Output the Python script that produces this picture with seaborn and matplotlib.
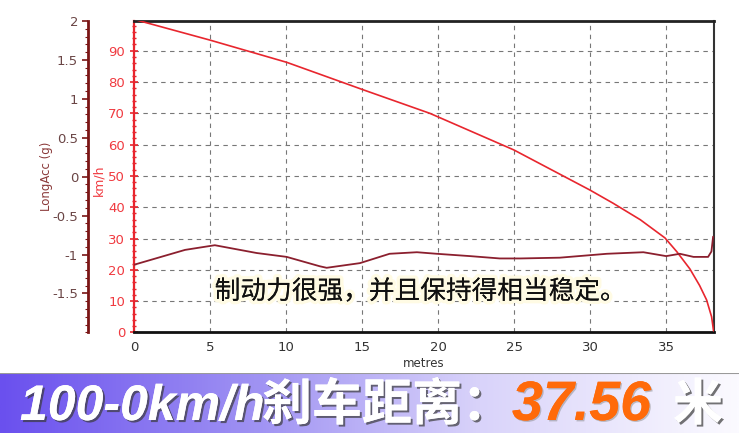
import numpy as np
import pandas as pd
import matplotlib
matplotlib.use("Agg")
import matplotlib.pyplot as plt
import matplotlib.patheffects as pe
from matplotlib.colors import LinearSegmentedColormap
from matplotlib.ticker import MultipleLocator, FixedLocator
import seaborn as sns

# ---------------- data ----------------
dist_speed = [0, 4.98, 10.03, 14.96, 19.45, 24.98, 29.98, 31.5, 33.3, 34.92, 35.7,
              36.56, 37.2, 37.66, 37.99, 38.12]
speed_kmh = [100, 93.4, 86.3, 77.7, 70.0, 58.3, 45.5, 41.3, 36.0, 30.2, 25.8,
             20.3, 15.0, 10.4, 5.0, 0.5]

dist_acc = [0, 3.34, 5.3, 8.05, 10.03, 12.2, 12.66, 14.85, 16.8, 18.6, 19.9, 22.1,
            24.05, 25.4, 28.0, 31.1, 33.5, 35.0, 35.9, 36.8, 37.76, 37.98, 38.09]
long_acc_g = [-1.13, -0.94, -0.88, -0.98, -1.03, -1.15, -1.17, -1.11, -0.99, -0.97,
              -0.99, -1.02, -1.05, -1.05, -1.04, -0.99, -0.97, -1.02, -0.99, -1.03,
              -1.03, -0.96, -0.77]

x_ticks = [0, 5, 10, 15, 20, 25, 30, 35]
speed_ticks = [0, 10, 20, 30, 40, 50, 60, 70, 80, 90]
acc_ticks = [-1.5, -1, -0.5, 0, 0.5, 1, 1.5, 2]
acc_tick_labels = ["-1.5", "-1", "-0.5", "0", "0.5", "1", "1.5", "2"]

caption = "制动力很强，并且保持得相当稳定。"
banner_parts = ["100-0km/h", "刹车距离：", "37.56", "米"]

# ---------------- style ----------------
sns.set_style("white")
plt.rcParams['font.family'] = ['DejaVu Sans', 'Noto Sans CJK SC']

SPEED_C = "#E8262E"
ACC_C = "#8B1F2E"

fig = plt.figure(figsize=(7.39, 4.33), dpi=100)
ax = fig.add_axes([0.1817, 0.2323, 0.7845, 0.7192])

df_speed = pd.DataFrame({"metres": dist_speed, "kmh": speed_kmh})
df_acc = pd.DataFrame({"metres": dist_acc, "g": long_acc_g})

sns.lineplot(data=df_speed, x="metres", y="kmh", ax=ax, color=SPEED_C,
             linewidth=1.2, estimator=None, sort=False, zorder=3)
ax.set_xlim(0, 38.15)
ax.set_ylim(0, 99.5)

ax.set_xticks(x_ticks)
ax.xaxis.set_minor_locator(MultipleLocator(1))
ax.set_yticks(speed_ticks)
ax.yaxis.set_minor_locator(MultipleLocator(2))
ax.grid(True, which="major", color="#777777", linestyle=(0, (4, 4)), linewidth=0.8)

ax.tick_params(axis="x", which="both", direction="in", colors="#222222",
               labelsize=9.5, labelcolor="#333333", pad=6)
ax.tick_params(axis="x", which="major", length=4, width=1)
ax.tick_params(axis="x", which="minor", length=3, width=0.8)
ax.tick_params(axis="y", which="both", direction="inout", colors=SPEED_C,
               labelsize=9.5, labelcolor="#F03A40")
ax.tick_params(axis="y", which="major", length=6, width=1.2)
ax.tick_params(axis="y", which="minor", length=3, width=1)

ax.set_xlabel("metres", fontsize=8.5, color="#333333", labelpad=2)
ax.set_ylabel("km/h", fontsize=9, color="#F03A40")
ax.yaxis.set_label_coords(-0.049, 0.49)

ax.spines["left"].set_color(SPEED_C)
ax.spines["left"].set_linewidth(1.6)
ax.spines["top"].set_color("#222222")
ax.spines["top"].set_linewidth(2)
ax.spines["bottom"].set_color("#111111")
ax.spines["bottom"].set_linewidth(2)
ax.spines["right"].set_color("#333333")
ax.spines["right"].set_linewidth(1.5)

# acceleration axis on the left, offset
ax2 = ax.twinx()
sns.lineplot(data=df_acc, x="metres", y="g", ax=ax2, color=ACC_C,
             linewidth=1.3, estimator=None, sort=False, zorder=3)
ax2.set_ylim(-2, 2)
ax2.set_xlim(0, 38.15)
ax2.yaxis.set_ticks_position("left")
ax2.yaxis.set_label_position("left")
ax2.spines["right"].set_visible(False)
ax2.spines["top"].set_visible(False)
ax2.spines["bottom"].set_visible(False)
ax2.spines["left"].set_visible(True)
ax2.spines["left"].set_position(("outward", 33))
ax2.spines["left"].set_color("#7A1515")
ax2.spines["left"].set_linewidth(2)
ax2.yaxis.set_major_locator(FixedLocator(acc_ticks))
ax2.set_yticklabels(acc_tick_labels)
ax2.yaxis.set_minor_locator(MultipleLocator(0.1))
ax2.tick_params(axis="y", which="both", direction="out", colors="#7A1515",
                labelsize=9.5, labelcolor="#6A4545")
ax2.tick_params(axis="y", which="major", length=4, width=1.2)
ax2.tick_params(axis="y", which="minor", length=2, width=0.8)
ax2.set_ylabel("LongAcc (g)", fontsize=8.5, color="#8B3A3A")
ax2.yaxis.set_label_coords(-0.14, 0.5)
ax2.grid(False)

# caption
ax.text(0.494, 0.13, caption, transform=ax.transAxes, ha="center", va="center",
        fontsize=18.5, color="#111111", family=["Noto Sans CJK SC", "DejaVu Sans"],
        zorder=5,
        path_effects=[pe.withStroke(linewidth=5, foreground="#FFFBE4"), pe.Normal()])

# ---------------- banner ----------------
bax = fig.add_axes([0, 0, 1, (433 - 373) / 433])
cmap = LinearSegmentedColormap.from_list(
    "banner", [(0, "#6A50EE"), (0.35, "#A093F3"), (0.65, "#D9D3FA"), (1, "#FBFAFF")])
grad = np.linspace(0, 1, 512).reshape(1, -1)
bax.imshow(grad, aspect="auto", cmap=cmap, extent=[0, 1, 0, 1])
bax.set_xlim(0, 1)
bax.set_ylim(0, 1)
bax.axis("off")
bax.axhline(1, color="#9A9A9A", linewidth=1.5)

shadow = [pe.withSimplePatchShadow(offset=(1.5, -1.5), shadow_rgbFace="#3A3A3A", alpha=0.7),
          pe.Normal()]
base_y = (433 - 420) / 433
fig.text(20 / 739, base_y, banner_parts[0], ha="left", va="baseline", fontsize=36,
         fontweight="bold", style="italic", color="white",
         family=["Liberation Sans", "DejaVu Sans"], path_effects=shadow)
fig.text(262 / 739, base_y, banner_parts[1], ha="left", va="baseline", fontsize=36,
         fontweight="bold", color="white",
         family=["Noto Sans CJK SC", "DejaVu Sans"], path_effects=shadow)
fig.text(512 / 739, base_y, banner_parts[2], ha="left", va="baseline", fontsize=40,
         fontweight="bold", style="italic", color="#FF6A0A",
         family=["Liberation Sans", "DejaVu Sans"],
         path_effects=[pe.withSimplePatchShadow(offset=(1, -1), shadow_rgbFace="#888888", alpha=0.5),
                       pe.Normal()])
fig.text(673 / 739, base_y, banner_parts[3], ha="left", va="baseline", fontsize=36,
         fontweight="bold", color="white",
         family=["Noto Sans CJK SC", "DejaVu Sans"], path_effects=shadow)

fig.savefig("out.png", dpi=100)
